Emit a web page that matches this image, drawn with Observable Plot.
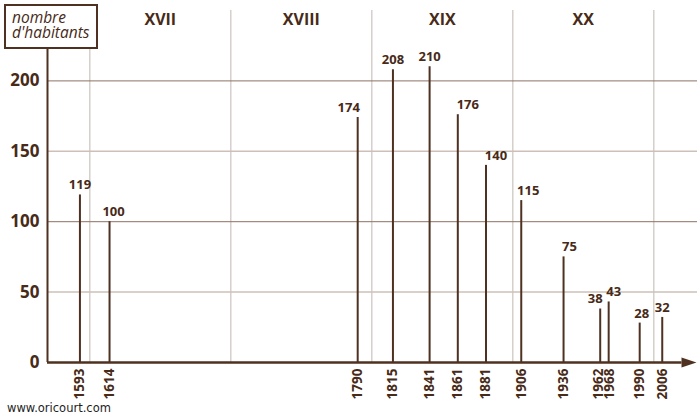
<!DOCTYPE html>
<html>
<head>
<meta charset="utf-8">
<script src="https://cdn.jsdelivr.net/npm/d3@7"></script>
<script src="https://cdn.jsdelivr.net/npm/@observablehq/plot@0.6"></script>
<style>
  body { margin: 0; background: #fff; }
  #wrap { position: relative; width: 700px; height: 420px; overflow: hidden; }
  #ylabel {
    position: absolute; left: 4px; top: 4px; width: 94px; height: 45px;
    box-sizing: border-box; border: 2px solid #4e3121; background: #fff;
    padding: 4px 0 0 6px; font-family: "Open Sans", sans-serif; font-style: italic;
    font-size: 15.5px; line-height: 15.3px; color: #472a18; white-space: pre;
  }
  #source {
    position: absolute; left: 7px; top: 401px; font-family: "DejaVu Sans", sans-serif;
    font-size: 11.5px; color: #1e1e1e; white-space: nowrap;
  }
</style>
</head>
<body>
<div id="wrap"></div>
<script>
// ---- data ----
const years = [1593, 1614, 1790, 1815, 1841, 1861, 1881, 1906, 1936, 1962, 1968, 1990, 2006];
const inhabitants = [119, 100, 174, 208, 210, 176, 140, 115, 75, 38, 43, 28, 32];
const yTicks = [0, 50, 100, 150, 200];
const centuryBounds = [1600, 1700, 1800, 1900, 2000];
const centuryLabels = ["XVII", "XVIII", "XIX", "XX"];
const centuryMids = [1650, 1750, 1850, 1950];
const yLabelLines = ["nombre", "d'habitants"];
const sourceText = "www.oricourt.com";

// ---- layout / style ----
const xDomain = [1570, 2031];
const yDomain = [0, 250];
const xAxisEnd = 2020;
const labelDx = {1614: 4, 1790: -9, 1861: 10, 1881: 10, 1906: 7, 1936: 6, 1962: -5, 1968: 5, 1990: 2};
const yearDx = {1962: -1.5, 1968: 1};
const dark = "#472a18";
const lineCol = "#4e3121";

const data = years.map((year, i) => ({year, value: inhabitants[i]}));

const arrowSymbol = {
  draw(ctx, size) {
    const r = Math.sqrt(size / Math.PI);
    ctx.moveTo(1.5 * r, 0);
    ctx.lineTo(-1.5 * r, -r);
    ctx.lineTo(-1.5 * r, r);
    ctx.closePath();
  }
};

const bold = {fontWeight: 700, fill: dark};

const marks = [
  Plot.ruleX(centuryBounds, {stroke: "#d5cfcb", strokeWidth: 1.5}),
  Plot.ruleY([50, 150], {stroke: "#cdc0b8", strokeWidth: 1.5}),
  Plot.ruleY([100, 200], {stroke: "#8d7263", strokeWidth: 1}),
  Plot.ruleX(data, {x: "year", y1: 0, y2: "value", stroke: lineCol, strokeWidth: 2}),
  Plot.ruleX([xDomain[0]], {stroke: lineCol, strokeWidth: 2}),
  Plot.ruleY([0], {x1: xDomain[0], x2: xAxisEnd, stroke: lineCol, strokeWidth: 2.5}),
  Plot.dot([xDomain[1]], {x: d => d, y: 0, symbol: arrowSymbol, r: 5, fill: lineCol, stroke: null, dx: -8.5}),
  Plot.text(yTicks, {x: xDomain[0], y: d => d, text: d => String(d), textAnchor: "end", dx: -8, fontSize: 17, ...bold}),
  ...years.map(y => Plot.text([y], {
    x: d => d, y: 0, text: d => String(d), rotate: -90, textAnchor: "end",
    dx: yearDx[y] || 0, dy: 6, fontSize: 13.5, ...bold
  })),
  Plot.text(centuryLabels, {x: (d, i) => centuryMids[i], text: d => d, frameAnchor: "top", lineAnchor: "top", dy: 3, fontSize: 16, ...bold}),
  ...data.map(d => Plot.text([d], {
    x: "year", y: "value", text: e => String(e.value),
    dx: labelDx[d.year] || 0, dy: -5.5, lineAnchor: "bottom", fontSize: 13, ...bold
  }))
];

const chart = Plot.plot({
  width: 700,
  height: 420,
  marginLeft: 47,
  marginRight: 3,
  marginTop: 10,
  marginBottom: 58,
  x: {domain: xDomain, axis: null},
  y: {domain: yDomain, axis: null},
  style: {fontFamily: "'Open Sans', sans-serif", background: "white", overflow: "visible"},
  marks
});

const wrap = document.getElementById("wrap");
wrap.appendChild(chart);

const box = document.createElement("div");
box.id = "ylabel";
box.textContent = yLabelLines.join("\n");
wrap.appendChild(box);

const src = document.createElement("div");
src.id = "source";
src.textContent = sourceText;
wrap.appendChild(src);
</script>
</body>
</html>
